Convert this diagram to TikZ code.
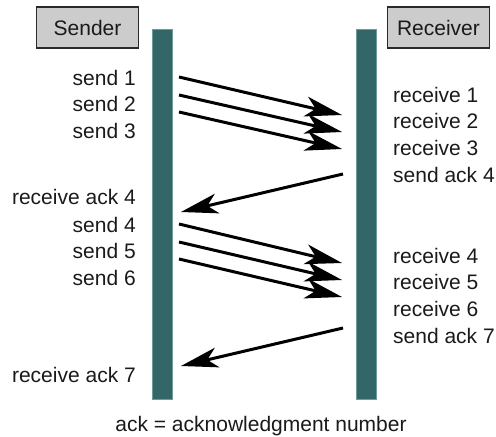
\documentclass[tikz,border=0pt]{standalone}
\usepackage{fontspec}
\setmainfont{Liberation Sans}
\usetikzlibrary{arrows.meta}
\definecolor{barteal}{HTML}{336666}
\definecolor{baredge}{HTML}{6E9C9C}
\definecolor{boxgray}{HTML}{CCCCCC}
\definecolor{boxedge}{HTML}{2A2A2A}
\definecolor{ink}{HTML}{1A1A1A}
\begin{document}
\begin{tikzpicture}[x=1pt,y=-1pt,
  every node/.style={font=\fontsize{21}{24}\selectfont, text=ink, inner sep=0pt},
  lifeline/.style={draw=baredge, line width=0.8pt, fill=barteal, minimum width=20pt, minimum height=370pt},
  rolebox/.style={draw=boxedge, line width=1.2pt, fill=boxgray, minimum width=102pt, minimum height=41pt},
  leftlbl/.style={anchor=base east},
  rightlbl/.style={anchor=base west},
  msg/.style={line width=3pt, -{Stealth[length=37pt, width=20pt, inset=10pt]}}
]
\useasboundingbox (0,0) rectangle (496,437);

% roles and lifelines
\node[rolebox] (sender) at (87.5,27.5) {Sender};
\node[rolebox] (receiver) at (438.5,27.5) {Receiver};
\node[lifeline] (sbar) at (162,214) {};
\node[lifeline] (rbar) at (366,214) {};

% sender-side events
\node[leftlbl] (s1) at (136,85) {send 1};
\node[leftlbl] (s2) at (136,111) {send 2};
\node[leftlbl] (s3) at (136,138) {send 3};
\node[leftlbl] (ra4) at (136,204) {receive ack 4};
\node[leftlbl] (s4) at (136,232) {send 4};
\node[leftlbl] (s5) at (136,258) {send 5};
\node[leftlbl] (s6) at (136,285) {send 6};
\node[leftlbl] (ra7) at (136,382) {receive ack 7};

% receiver-side events
\node[rightlbl] (r1) at (393,102) {receive 1};
\node[rightlbl] (r2) at (393,128) {receive 2};
\node[rightlbl] (r3) at (393,155) {receive 3};
\node[rightlbl] (sa4) at (393,182) {send ack 4};
\node[rightlbl] (r4) at (393,263) {receive 4};
\node[rightlbl] (r5) at (393,289) {receive 5};
\node[rightlbl] (r6) at (393,316) {receive 6};
\node[rightlbl] (sa7) at (393,343) {send ack 7};

\node[anchor=base] (note) at (261,431) {ack = acknowledgment number};

% message end points on the lifelines
\coordinate (o1) at (179,77);  \coordinate (i1) at (342,115);
\coordinate (o2) at (179,95);  \coordinate (i2) at (342,132);
\coordinate (o3) at (179,112); \coordinate (i3) at (342,149);
\coordinate (ao4) at (343,174); \coordinate (ai4) at (181,212);
\coordinate (o4) at (179,224); \coordinate (i4) at (342,263);
\coordinate (o5) at (179,242); \coordinate (i5) at (342,280);
\coordinate (o6) at (179,259); \coordinate (i6) at (342,297);
\coordinate (ao7) at (343,328); \coordinate (ai7) at (181,366);

% segments and acknowledgments
\draw[msg] (o1) -- (i1);
\draw[msg] (o2) -- (i2);
\draw[msg] (o3) -- (i3);
\draw[msg] (ao4) -- (ai4);
\draw[msg] (o4) -- (i4);
\draw[msg] (o5) -- (i5);
\draw[msg] (o6) -- (i6);
\draw[msg] (ao7) -- (ai7);
\end{tikzpicture}
\end{document}
